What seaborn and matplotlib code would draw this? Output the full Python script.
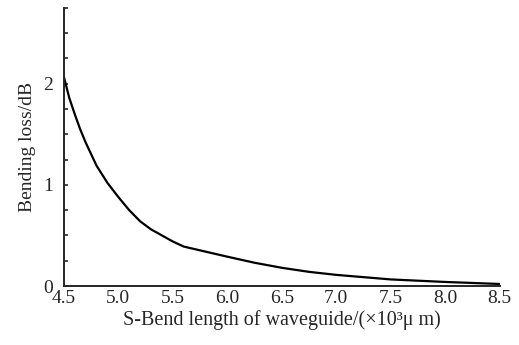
import numpy as np
import pandas as pd
import seaborn as sns
import matplotlib.pyplot as plt
from matplotlib.ticker import MultipleLocator

# S-bend length (x10^3 um) and bending loss (dB)
length = [4.5, 4.55, 4.6, 4.65, 4.7, 4.8, 4.9, 5.0, 5.1, 5.2, 5.3, 5.4, 5.5, 5.6,
          5.8, 6.0, 6.25, 6.5, 6.75, 7.0, 7.5, 8.0, 8.5]
loss = [2.07, 1.86, 1.70, 1.55, 1.42, 1.19, 1.02, 0.88, 0.75, 0.64, 0.56, 0.50, 0.44, 0.39,
        0.34, 0.29, 0.23, 0.18, 0.14, 0.11, 0.065, 0.04, 0.02]
xticks = [4.5, 5.0, 5.5, 6.0, 6.5, 7.0, 7.5, 8.0, 8.5]
xticklabels = ["4.5", "5.0", "5.5", "6.0", "6.5", "7.0", "7.5", "8.0", "8.5"]

df = pd.DataFrame({"length": length, "loss": loss})

sns.set_style("ticks")
plt.rcParams['font.family'] = ['Liberation Serif', 'DejaVu Serif']

fig = plt.figure(figsize=(5.19, 3.45), dpi=100)
ax = fig.add_axes([0.123, 0.171, 0.840, 0.806])

sns.lineplot(data=df, x="length", y="loss", ax=ax, color="black", linewidth=1.6)

ax.set_xlim(4.5, 8.5)
ax.set_ylim(0, 2.75)
ax.set_xticks(xticks)
ax.set_xticklabels(xticklabels, fontsize=14)
ax.set_yticks([0, 1, 2])
ax.set_yticklabels(["0", "1", "2"], fontsize=14)
ax.yaxis.set_minor_locator(MultipleLocator(0.25))
ax.tick_params(axis="y", which="both", direction="in", length=3, width=1.2, pad=8)
ax.tick_params(axis="x", which="both", length=0, pad=3)

ax.set_xlabel("S-Bend length of waveguide/(\u00d710\u00b3\u03bc m)", fontsize=14.5, labelpad=2)
ax.set_ylabel("Bending loss/dB", fontsize=14, labelpad=5)

sns.despine(ax=ax)
for s in ["left", "bottom"]:
    ax.spines[s].set_linewidth(1.4)

fig.savefig("out.png", dpi=100)
